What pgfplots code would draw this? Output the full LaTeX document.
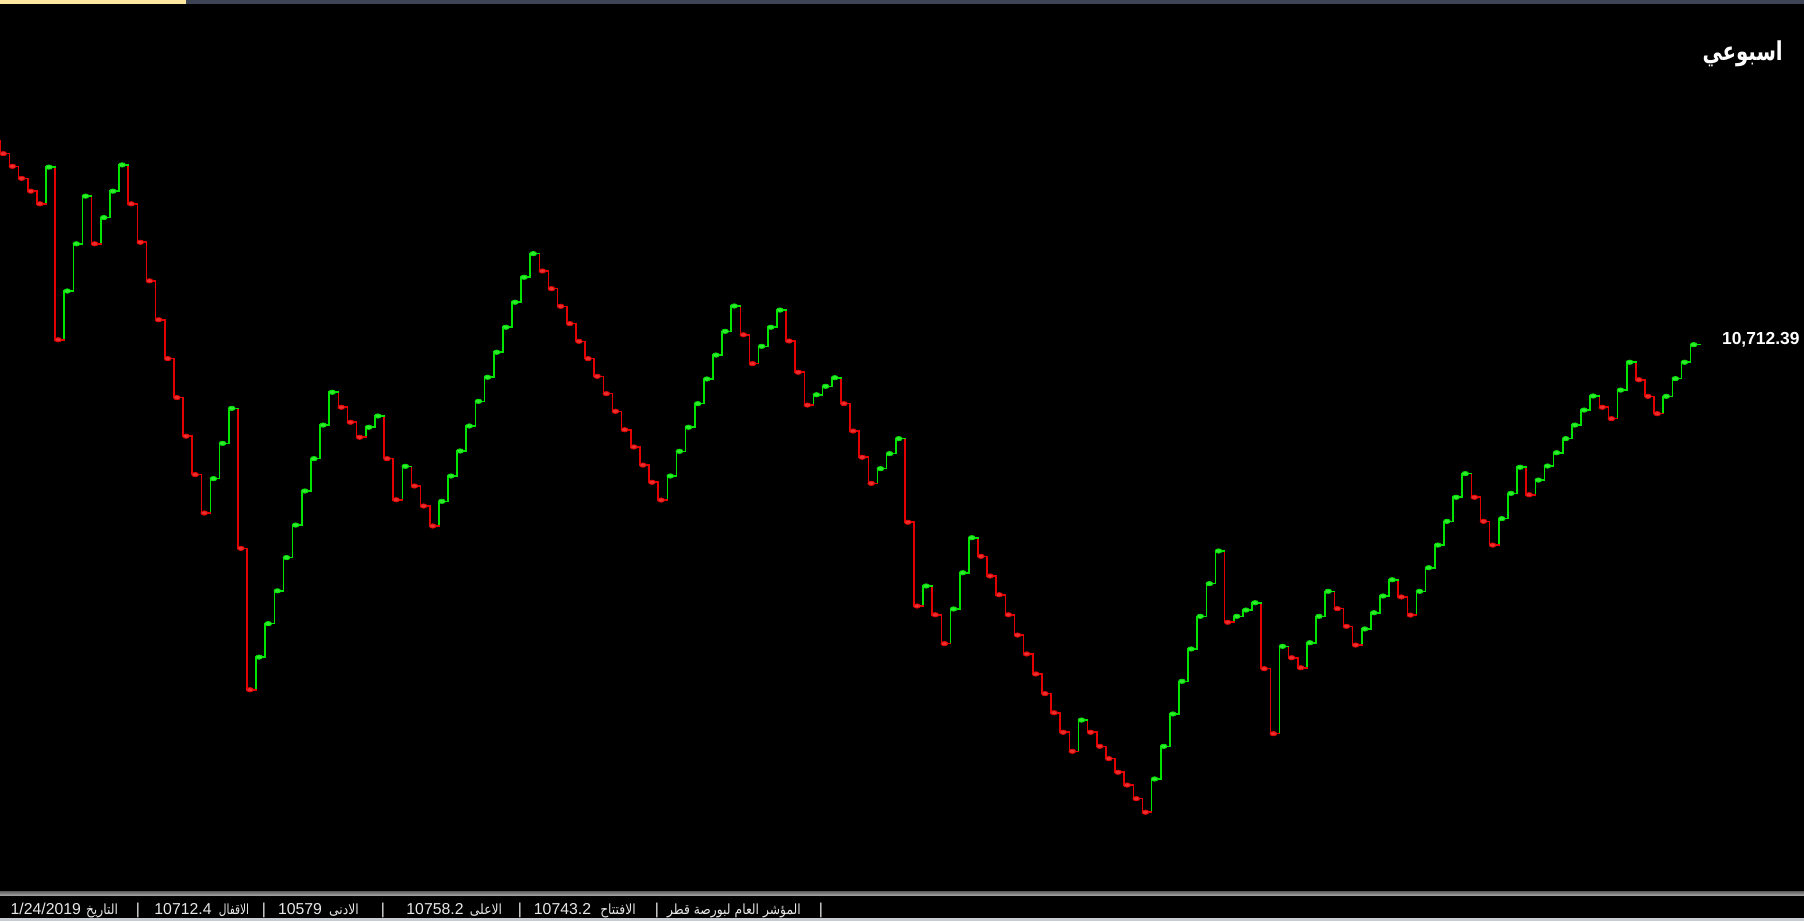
\documentclass[border=0pt]{standalone}
\usepackage{pgfplots}
\pgfplotsset{compat=1.18}
\usepackage{pgfplotstable}
\usepackage{fontspec}
\setmainfont{Liberation Sans}
\newfontfamily\arabicfont[Script=Arabic]{DejaVu Sans}
\TeXXeTstate=1
\definecolor{stc}{RGB}{232,232,232}
\definecolor{topy}{RGB}{253,230,160}
\definecolor{tops}{RGB}{60,68,86}
\definecolor{botl}{RGB}{200,205,212}
\pgfplotstableread{
i y p
0 12017 12017
1 11935 12017
2 11854 11935
3 11777 11854
4 11695 11777
5 11614 11695
6 11849 11614
7 10744 11849
8 11056 10744
9 11358 11056
10 11663 11358
11 11358 11663
12 11526 11358
13 11695 11526
14 11863 11695
15 11614 11863
16 11368 11614
17 11121 11368
18 10872 11121
19 10623 10872
20 10374 10623
21 10127 10374
22 9881 10127
23 9635 9881
24 9855 9635
25 10081 9855
26 10305 10081
27 9409 10305
28 8504 9409
29 8713 8504
30 8927 8713
31 9137 8927
32 9350 9137
33 9558 9350
34 9776 9558
35 9983 9776
36 10198 9983
37 10408 10198
38 10312 10408
39 10216 10312
40 10120 10216
41 10184 10120
42 10256 10184
43 9983 10256
44 9720 9983
45 9934 9720
46 9808 9934
47 9680 9808
48 9552 9680
49 9710 9552
50 9872 9710
51 10032 9872
52 10192 10032
53 10350 10192
54 10504 10350
55 10664 10504
56 10824 10664
57 10984 10824
58 11144 10984
59 11295 11144
60 11184 11295
61 11071 11184
62 10958 11071
63 10847 10958
64 10734 10847
65 10623 10734
66 10510 10623
67 10399 10510
68 10286 10399
69 10168 10286
70 10058 10168
71 9942 10058
72 9832 9942
73 9718 9832
74 9872 9718
75 10030 9872
76 10184 10030
77 10335 10184
78 10493 10335
79 10646 10493
80 10798 10646
81 10960 10798
82 10776 10960
83 10591 10776
84 10702 10591
85 10824 10702
86 10934 10824
87 10736 10934
88 10536 10736
89 10326 10536
90 10392 10326
91 10446 10392
92 10501 10446
93 10335 10501
94 10160 10335
95 9992 10160
96 9825 9992
97 9919 9825
98 10015 9919
99 10111 10015
100 9576 10111
101 9040 9576
102 9168 9040
103 8984 9168
104 8799 8984
105 9021 8799
106 9253 9021
107 9477 9253
108 9358 9477
109 9232 9358
110 9112 9232
111 8984 9112
112 8854 8984
113 8733 8854
114 8605 8733
115 8479 8605
116 8357 8479
117 8232 8357
118 8110 8232
119 8310 8110
120 8232 8310
121 8142 8232
122 8063 8142
123 7976 8063
124 7894 7976
125 7807 7894
126 7720 7807
127 7933 7720
128 8142 7933
129 8349 8142
130 8558 8349
131 8765 8558
132 8974 8765
133 9183 8974
134 9392 9183
135 8936 9392
136 8974 8936
137 9014 8974
138 9061 9014
139 8639 9061
140 8223 8639
141 8782 8223
142 8709 8782
143 8645 8709
144 8805 8645
145 8974 8805
146 9134 8974
147 9023 9134
148 8910 9023
149 8790 8910
150 8893 8790
151 8997 8893
152 9104 8997
153 9208 9104
154 9098 9208
155 8982 9098
156 9134 8982
157 9285 9134
158 9430 9285
159 9582 9430
160 9736 9582
161 9887 9736
162 9736 9887
163 9582 9736
164 9430 9582
165 9599 9430
166 9761 9599
167 9928 9761
168 9752 9928
169 9846 9752
170 9936 9846
171 10021 9936
172 10111 10021
173 10198 10111
174 10294 10198
175 10384 10294
176 10312 10384
177 10239 10312
178 10422 10239
179 10600 10422
180 10488 10600
181 10382 10488
182 10271 10382
183 10382 10271
184 10495 10382
185 10600 10495
186 10712.39 10600
}\data
\begin{document}
\begin{tikzpicture}
\useasboundingbox (0,0) rectangle (902pt,460.5pt);
\fill[black] (0,0) rectangle (902pt,460.5pt);
\begin{axis}[at={(0pt,0pt)}, anchor=south west, scale only axis,
  width=902pt, height=460.5pt,
  xmin=0.9672, xmax=198.405, ymin=7024.07, ymax=12918.47,
  axis lines=none, clip=true,
  colormap={rg}{rgb255=(228,0,0) rgb255=(0,228,0)},
  point meta min=0, point meta max=1]
\addplot[quiver={u=0, v=\thisrow{y}-\thisrow{p}, colored=mapped color}, -, line width=0.8pt, line cap=rect,
  point meta={\thisrow{y}>\thisrow{p}}] table[x=i, y=p] {\data};
\addplot[quiver={u=1, v=0, colored=mapped color}, -, line width=0.8pt, line cap=rect,
  point meta={\thisrow{y}>\thisrow{p}}] table[x=i, y=y] {\data};
\addplot[scatter, only marks, mark=*, mark size=1.35pt,
  point meta={\thisrow{y}>\thisrow{p}},
  scatter/use mapped color={draw=mapped color, fill=mapped color!82!white},
  mark options={xshift=1.5pt, xscale=1.25, yscale=0.8}] table[x=i, y=y] {\data};
\end{axis}
% top bar
\fill[topy] (0,458.5pt) rectangle (93pt,460.5pt);
\fill[tops] (93pt,458.5pt) rectangle (902pt,460.5pt);
% bottom status bar
\fill[black] (0,0) rectangle (902pt,12.75pt);
\shade[top color=black!60, bottom color=black!35] (0,12.75pt) rectangle (902pt,14.75pt);
\fill[botl] (0,0) rectangle (902pt,1.5pt);
% title and last price
\node[anchor=base east, text=white, inner sep=0pt, xscale=0.76, font=\arabicfont\bfseries\fontsize{13}{15}\selectfont] at (891.5pt,430pt) {\beginR اسبوعي\endR};
\node[anchor=base west, text=white, inner sep=0pt, font=\bfseries\fontsize{8.7}{10}\selectfont] at (860.85pt,288.35pt) {10,712.39};
% status text
\begin{scope}[every node/.style={anchor=base, inner sep=0pt, text=stc, font=\fontsize{7.9}{9}\selectfont},
  ar/.style={xscale=0.88, font=\arabicfont\fontsize{7}{9}\selectfont}]
\node at (22.9pt,3.5pt) {1/24/2019};
\node[ar] at (51pt,3.5pt) {\beginR التاريخ\endR};
\node at (69pt,3.5pt) {|};
\node at (91.5pt,3.5pt) {10712.4};
\node[ar, xscale=0.86] at (117pt,3.5pt) {\beginR الاقفال\endR};
\node at (132pt,3.5pt) {|};
\node at (150pt,3.5pt) {10579};
\node[ar] at (172pt,3.5pt) {\beginR الادنى\endR};
\node at (191.5pt,3.5pt) {|};
\node at (217.5pt,3.5pt) {10758.2};
\node[ar] at (243pt,3.5pt) {\beginR الاعلى\endR};
\node at (260pt,3.5pt) {|};
\node at (281.25pt,3.5pt) {10743.2};
\node[ar] at (309pt,3.5pt) {\beginR الافتتاح\endR};
\node at (328.5pt,3.5pt) {|};
\node[ar] at (367pt,3.5pt) {\beginR المؤشر العام لبورصة قطر\endR};
\node at (410.5pt,3.5pt) {|};
\end{scope}
\end{tikzpicture}
\end{document}
